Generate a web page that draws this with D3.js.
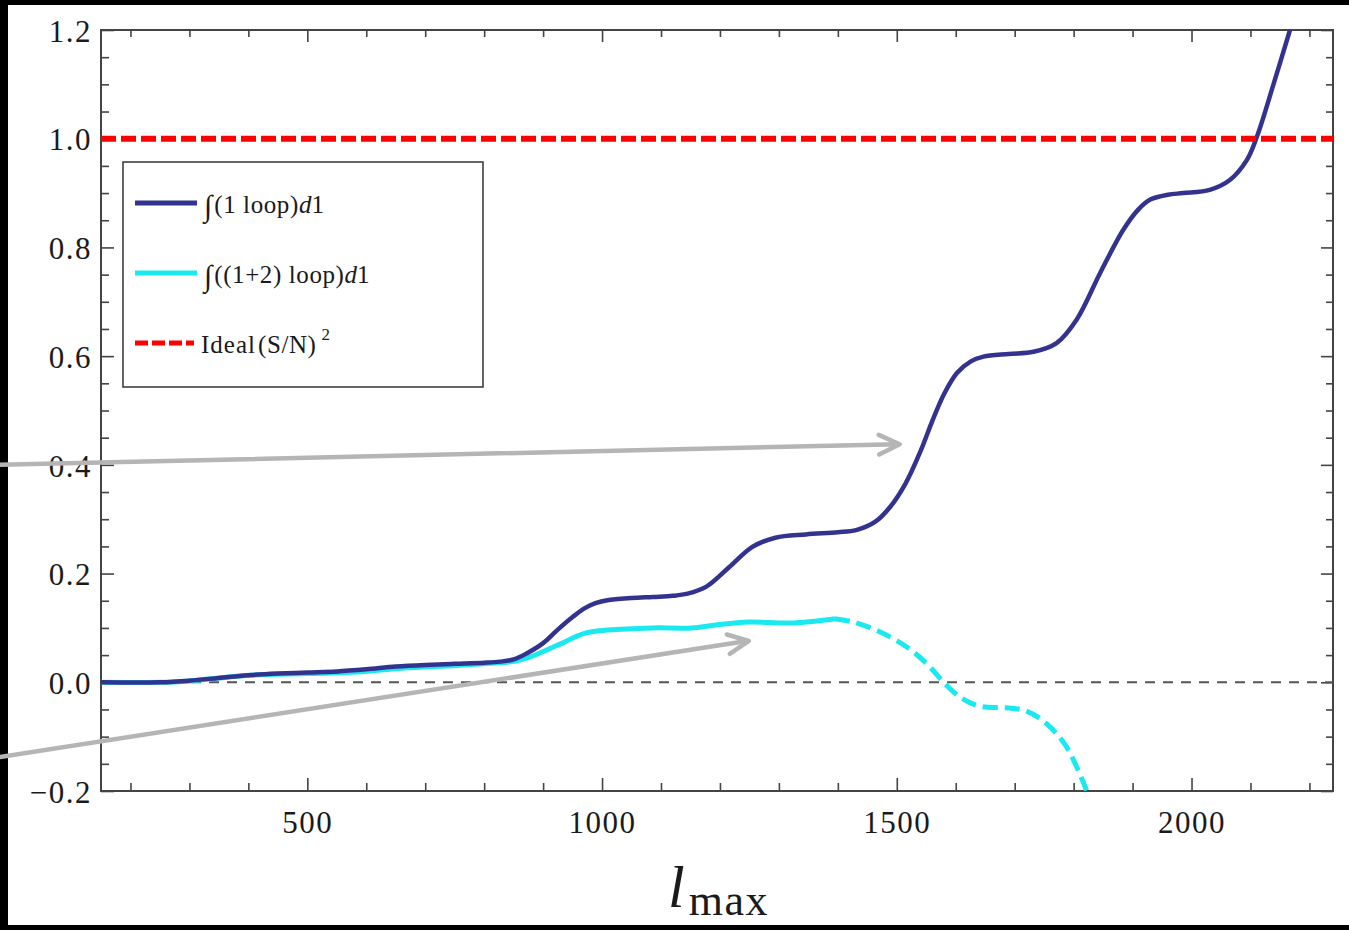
<!DOCTYPE html>
<html>
<head>
<meta charset="utf-8">
<script src="https://cdn.jsdelivr.net/npm/d3@7"></script>
<style>
  html, body { margin: 0; padding: 0; background: #fff; }
  svg { display: block; }
</style>
</head>
<body>
<svg id="chart" width="1349" height="930"></svg>
<script>
// ---- data -------------------------------------------------------------
// multipole cut-off l_max
const oneLoopL = [150, 250, 300, 350, 400, 450, 500, 550, 600, 650, 700, 750, 800, 827, 850, 872, 900, 924, 950, 970, 990, 1009, 1050, 1086, 1120, 1145, 1177, 1216, 1255, 1294, 1346, 1400, 1431, 1463, 1489, 1515, 1541, 1560, 1580, 1602, 1625, 1647, 1690, 1732, 1771, 1805, 1845, 1884, 1910, 1930, 1960, 1986, 2031, 2065, 2094, 2111, 2139, 2167];
const oneLoopV = [0, 0, 0.003, 0.008, 0.013, 0.016, 0.018, 0.020, 0.024, 0.029, 0.032, 0.034, 0.036, 0.038, 0.042, 0.053, 0.072, 0.096, 0.120, 0.136, 0.146, 0.151, 0.155, 0.157, 0.159, 0.163, 0.176, 0.212, 0.249, 0.266, 0.272, 0.276, 0.280, 0.295, 0.323, 0.366, 0.427, 0.480, 0.530, 0.569, 0.590, 0.599, 0.604, 0.608, 0.624, 0.667, 0.753, 0.832, 0.870, 0.888, 0.897, 0.900, 0.906, 0.924, 0.961, 1.004, 1.100, 1.200];

// 1+2 loop: solid section, then the dashed continuation
const twoLoopL = [150, 250, 296, 350, 403, 500, 584, 660, 750, 811, 849, 879, 924, 970, 1009, 1086, 1152, 1190, 1249, 1320, 1395];
const twoLoopV = [0, 0, 0.002, 0.008, 0.013, 0.016, 0.019, 0.026, 0.031, 0.035, 0.038, 0.047, 0.068, 0.090, 0.096, 0.100, 0.100, 0.105, 0.111, 0.109, 0.117];
const twoLoopTailL = [1395, 1426, 1471, 1517, 1551, 1579, 1607, 1641, 1686, 1720, 1754, 1788, 1822];
const twoLoopTailV = [0.117, 0.111, 0.093, 0.065, 0.034, 0.001, -0.027, -0.044, -0.047, -0.053, -0.076, -0.119, -0.199];

const idealLevel = 1.0;

const xMajorTicks = [500, 1000, 1500, 2000];
const xMinorTicks = d3.range(200, 2201, 100);
const yMajorTicks = [-0.2, 0, 0.2, 0.4, 0.6, 0.8, 1.0, 1.2];
const yMinorTicks = d3.range(-0.15, 1.2, 0.05);

// annotation arrows: [l, value] of tail and tip
const arrowTails = [[-21.5, 0.400], [-21.5, -0.1376]];
const arrowTips  = [[1505, 0.438], [1249, 0.076]];

const legendLabels = ["(1 loop)", "((1+2) loop)", "Ideal"];

// ---- layout -----------------------------------------------------------
const W = 1349, H = 930;
const plot = { left: 101, right: 1333, top: 30, bottom: 791 };
const serif = "'Liberation Serif', 'Times New Roman', serif";
const navy = "#33338f", cyan = "#1ae9f0", red = "#ff0000";

const svg = d3.select("#chart");

// dark frame around the page
svg.append("rect").attr("width", W).attr("height", H).attr("fill", "#000");
svg.append("rect").attr("x", 8).attr("y", 5).attr("width", W - 8).attr("height", 920).attr("fill", "#fff");

const x = d3.scaleLinear().domain([150, 2240]).range([plot.left, plot.right]);
const y = d3.scaleLinear().domain([-0.2, 1.2]).range([plot.bottom, plot.top]);

// clip for data curves
svg.append("defs").append("clipPath").attr("id", "plotClip")
  .append("rect")
  .attr("x", plot.left).attr("y", plot.top)
  .attr("width", plot.right - plot.left).attr("height", plot.bottom - plot.top);

// ---- axes (ticks point inward on all four sides) ------------------------
const tickColor = "#444";
function styleAxis(g) {
  g.select(".domain").remove();
  g.selectAll(".tick line").attr("stroke", tickColor).attr("stroke-width", 1.6);
  g.selectAll(".tick text").attr("font-family", serif).attr("fill", "#1a1a1a");
}

// bottom
svg.append("g").attr("transform", `translate(0,${plot.bottom})`)
  .call(d3.axisBottom(x).tickValues(xMinorTicks.filter(v => v % 500 !== 0)).tickSize(-8).tickFormat(""))
  .call(styleAxis);
svg.append("g").attr("transform", `translate(0,${plot.bottom})`)
  .call(d3.axisBottom(x).tickValues(xMajorTicks).tickSizeInner(-13).tickSizeOuter(0).tickPadding(20).tickFormat(d3.format("d")))
  .call(styleAxis)
  .call(g => g.selectAll(".tick text").attr("font-size", 31).attr("letter-spacing", 1.5));
// top
svg.append("g").attr("transform", `translate(0,${plot.top})`)
  .call(d3.axisTop(x).tickValues(xMinorTicks.filter(v => v % 500 !== 0)).tickSize(-7).tickFormat(""))
  .call(styleAxis);
svg.append("g").attr("transform", `translate(0,${plot.top})`)
  .call(d3.axisTop(x).tickValues(xMajorTicks).tickSize(-12).tickFormat(""))
  .call(styleAxis);
// left
const yMinorOnly = yMinorTicks.filter(v => Math.abs(Math.round(v * 5) - v * 5) > 1e-6);
svg.append("g").attr("transform", `translate(${plot.left},0)`)
  .call(d3.axisLeft(y).tickValues(yMinorOnly).tickSize(-8).tickFormat(""))
  .call(styleAxis);
svg.append("g").attr("transform", `translate(${plot.left},0)`)
  .call(d3.axisLeft(y).tickValues(yMajorTicks).tickSizeInner(-13).tickSizeOuter(0).tickPadding(9).tickFormat(d3.format(".1f")))
  .call(styleAxis)
  .call(g => g.selectAll(".tick text").attr("font-size", 31).attr("letter-spacing", 1.5).attr("dy", "0.36em"));
// right
svg.append("g").attr("transform", `translate(${plot.right},0)`)
  .call(d3.axisRight(y).tickValues(yMinorOnly).tickSize(-7).tickFormat(""))
  .call(styleAxis);
svg.append("g").attr("transform", `translate(${plot.right},0)`)
  .call(d3.axisRight(y).tickValues(yMajorTicks).tickSize(-12).tickFormat(""))
  .call(styleAxis);

// frame
svg.append("rect")
  .attr("x", plot.left).attr("y", plot.top)
  .attr("width", plot.right - plot.left).attr("height", plot.bottom - plot.top)
  .attr("fill", "none").attr("stroke", tickColor).attr("stroke-width", 2);

// zero reference line
svg.append("line")
  .attr("x1", x(150)).attr("x2", x(2240)).attr("y1", y(0)).attr("y2", y(0))
  .attr("stroke", "#555").attr("stroke-width", 2).attr("stroke-dasharray", "10,8");

// ---- curves -------------------------------------------------------------
const line = d3.line().x(d => x(d[0])).y(d => y(d[1])).curve(d3.curveCatmullRom.alpha(0.5));
const zip = (a, b) => a.map((v, i) => [v, b[i]]);

const curves = svg.append("g").attr("clip-path", "url(#plotClip)");
curves.append("path").datum(zip(twoLoopL, twoLoopV))
  .attr("d", line).attr("fill", "none").attr("stroke", cyan).attr("stroke-width", 5);
curves.append("path").datum(zip(twoLoopTailL, twoLoopTailV))
  .attr("d", line).attr("fill", "none").attr("stroke", cyan).attr("stroke-width", 5)
  .attr("stroke-dasharray", "15,7");
curves.append("path").datum(zip(oneLoopL, oneLoopV))
  .attr("d", line).attr("fill", "none").attr("stroke", navy).attr("stroke-width", 4.5);

// ideal (S/N)^2 level
svg.append("line")
  .attr("x1", x(150)).attr("x2", x(2240)).attr("y1", y(idealLevel)).attr("y2", y(idealLevel))
  .attr("stroke", red).attr("stroke-width", 6).attr("stroke-dasharray", "15,5");

// ---- legend -------------------------------------------------------------
const legend = svg.append("g");
legend.append("rect").attr("x", 123).attr("y", 162).attr("width", 360).attr("height", 225)
  .attr("fill", "#fff").attr("stroke", "#333").attr("stroke-width", 1.5);

const legendRows = [
  { y: 203, color: navy, dash: null, x2: 197 },
  { y: 273, color: cyan, dash: null, x2: 197 },
  { y: 343, color: red, dash: "13,4", x2: 194 }
];
legendRows.forEach(r => {
  legend.append("line").attr("x1", 135).attr("x2", r.x2).attr("y1", r.y).attr("y2", r.y)
    .attr("stroke", r.color).attr("stroke-width", 5).attr("stroke-dasharray", r.dash);
});

function integralLabel(yBase, inner) {
  const t = legend.append("text").attr("x", 204).attr("y", yBase)
    .attr("font-family", serif).attr("font-size", 25).attr("fill", "#1a1a1a");
  t.append("tspan").text("\u222B").attr("font-size", 30).attr("dy", 3);
  t.append("tspan").text(inner).attr("dx", 2).attr("dy", -3).attr("letter-spacing", 0.6);
  t.append("tspan").text("d").attr("font-style", "italic");
  t.append("tspan").text("1");
}
integralLabel(213, legendLabels[0]);
integralLabel(283, legendLabels[1]);
{
  const t = legend.append("text").attr("x", 201).attr("y", 353)
    .attr("font-family", serif).attr("font-size", 25).attr("fill", "#1a1a1a");
  t.append("tspan").text(legendLabels[2]).attr("letter-spacing", 1);
  t.append("tspan").text("(S/N)").attr("dx", 2).attr("letter-spacing", 0.6);
  t.append("tspan").text("2").attr("font-size", 17).attr("dx", 5).attr("dy", -13);
}

// ---- x-axis title -------------------------------------------------------
{
  const t = svg.append("text").attr("x", 668).attr("y", 907)
    .attr("font-family", serif).attr("fill", "#1a1a1a");
  t.append("tspan").text("l").attr("font-style", "italic").attr("font-size", 60);
  t.append("tspan").text("max").attr("font-size", 44).attr("dx", 4).attr("dy", 8).attr("letter-spacing", 1.5);
}

// ---- annotation arrows ----------------------------------------------------
const arrows = svg.append("g").attr("stroke", "#b5b5b5").attr("stroke-width", 4.5)
  .attr("fill", "none").attr("stroke-linecap", "round").attr("stroke-linejoin", "round");
arrowTails.forEach((tail, i) => {
  const tip = arrowTips[i];
  const x0 = x(tail[0]), y0 = y(tail[1]), x1 = x(tip[0]), y1 = y(tip[1]);
  arrows.append("line").attr("x1", x0).attr("y1", y0).attr("x2", x1 - 2).attr("y2", y1);
  const ang = Math.atan2(y1 - y0, x1 - x0);
  const len = 23, spread = 0.44;
  const p = d3.path();
  p.moveTo(x1 - len * Math.cos(ang - spread), y1 - len * Math.sin(ang - spread));
  p.lineTo(x1, y1);
  p.lineTo(x1 - len * Math.cos(ang + spread), y1 - len * Math.sin(ang + spread));
  arrows.append("path").attr("d", p.toString());
});
</script>
</body>
</html>
